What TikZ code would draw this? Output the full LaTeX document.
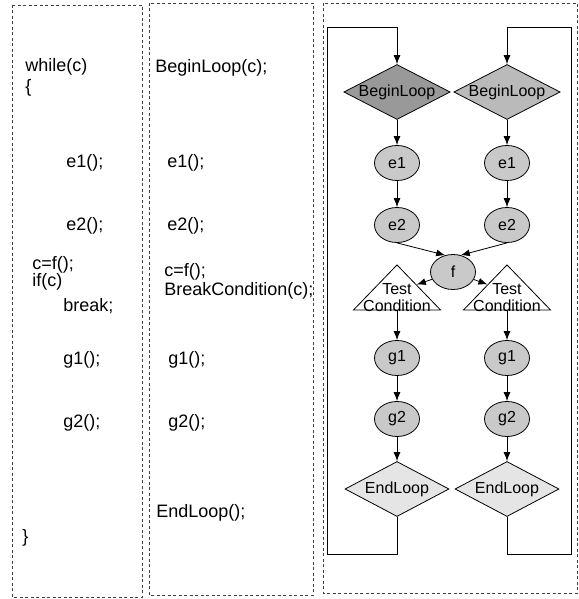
\documentclass[tikz,border=0pt]{standalone}
\usepackage{fontspec}
\setmainfont{Liberation Sans}
\usetikzlibrary{shapes.geometric,arrows.meta}

\tikzset{
  codebox/.style={draw=black!75,dash pattern=on 3pt off 2.5pt,line width=0.6pt},
  code/.style={anchor=west,inner sep=0pt,font=\fontsize{18}{20}\selectfont},
  nodetext/.style={font=\fontsize{16}{17}\selectfont},
  loopdiam/.style={diamond,aspect=2,draw,nodetext,inner sep=0pt,minimum width=104pt,minimum height=55pt},
  stmt/.style={ellipse,draw,fill=black!21,nodetext,inner sep=0pt,minimum width=45pt,minimum height=35pt},
  testtri/.style={isosceles triangle,shape border rotate=90,isosceles triangle stretches,
    draw,fill=white,inner sep=0pt,minimum width=87pt,minimum height=45pt},
  testtext/.style={nodetext,align=center,inner sep=0pt},
}

\begin{document}
\begin{tikzpicture}[x=1pt,y=-1pt,line width=0.8pt,>={Latex[length=9pt,width=7pt]}]
  \useasboundingbox (0,0) rectangle (578,599);

  % the three panels
  \draw[codebox] (12,5) rectangle (142,597);
  \draw[codebox] (149,3) rectangle (313,595);
  \draw[codebox] (323,3) rectangle (577,593);

  % plain loop
  \path
    (25,67) node[code] (wh) {while(c)}
    (25,88) node[code] (ob) {\{}
    (66,163) node[code] (ae1) {e1();}
    (66,226) node[code] (ae2) {e2();}
    (32,265) node[code] (acf) {c=f();}
    (32,282) node[code] (aif) {if(c)}
    (63,306) node[code] (abr) {break;}
    (63,360) node[code] (ag1) {g1();}
    (63,423) node[code] (ag2) {g2();}
    (22,538) node[code] (cb) {\}};

  % rewritten loop
  \path
    (155,68) node[code] (bbl) {BeginLoop(c);}
    (167,163) node[code] (be1) {e1();}
    (167,226) node[code] (be2) {e2();}
    (164,272) node[code] (bcf) {c=f();}
    (164,291) node[code] (bbc) {BreakCondition(c);}
    (168,360) node[code] (bg1) {g1();}
    (168,423) node[code] (bg2) {g2();}
    (156,513) node[code] (bel) {EndLoop();};

  % graph
  \path
    (397,92) node[loopdiam,fill=black!40] (blL) {BeginLoop}
    (507,92) node[loopdiam,fill=black!27] (blR) {BeginLoop}
    (397,163) node[stmt] (e1L) {e1}
    (507,163) node[stmt] (e1R) {e1}
    (397,225) node[stmt] (e2L) {e2}
    (507,225) node[stmt] (e2R) {e2}
    (453,272) node[stmt] (f) {f}
    (397,291.5) node[testtri] (tcL) {}
    (507,291.5) node[testtri] (tcR) {}
    (397,358) node[stmt] (g1L) {g1}
    (507,358) node[stmt] (g1R) {g1}
    (397,419) node[stmt] (g2L) {g2}
    (507,419) node[stmt] (g2R) {g2}
    (397,489) node[loopdiam,fill=black!10] (elL) {EndLoop}
    (507,489) node[loopdiam,fill=black!10] (elR) {EndLoop};
  \node[testtext] at (397,298) {Test\\Condition};
  \node[testtext] at (507,298) {Test\\Condition};

  \coordinate (lbL) at (327,554);
  \coordinate (ltL) at (327,27);
  \coordinate (rbR) at (571,554);
  \coordinate (rtR) at (571,27);

  \begin{scope}[->]
    \draw (blL) to (e1L);
    \draw (blR) to (e1R);
    \draw (e1L) to (e2L);
    \draw (e1R) to (e2R);
    \draw (e2L.south) to (f.115);
    \draw (e2R.south) to (f.65);
    \draw (f) to (tcL);
    \draw (f) to (tcR);
    \draw (tcL) to (g1L);
    \draw (tcR) to (g1R);
    \draw (g1L) to (g2L);
    \draw (g1R) to (g2R);
    \draw (g2L) to (elL);
    \draw (g2R) to (elR);
    \draw (elL.south) |- (lbL) -- (ltL) -| (blL.north);
    \draw (elR.south) |- (rbR) -- (rtR) -| (blR.north);
  \end{scope}
\end{tikzpicture}
\end{document}
